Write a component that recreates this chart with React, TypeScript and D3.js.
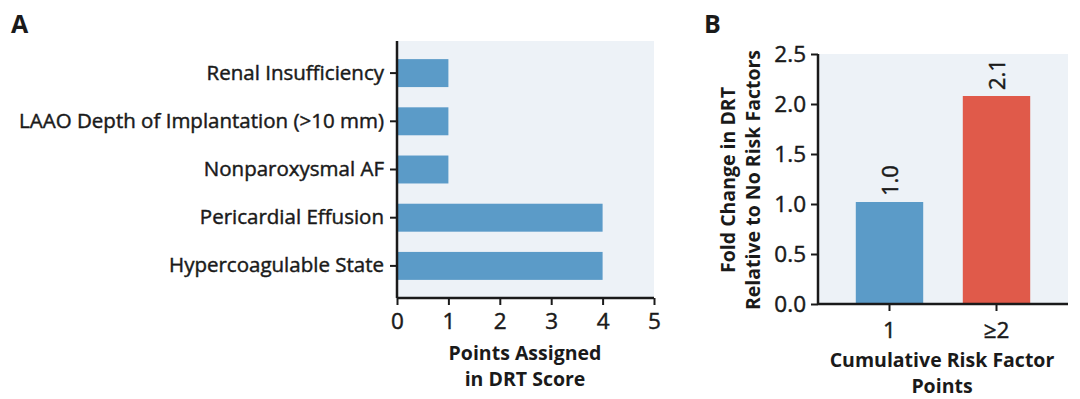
import React, { useEffect, useRef } from 'react';
import * as d3 from 'd3';

// Panel A: points assigned per risk factor
const factors = [
  'Renal Insufficiency',
  'LAAO Depth of Implantation (>10 mm)',
  'Nonparoxysmal AF',
  'Pericardial Effusion',
  'Hypercoagulable State',
];
const points = [1, 1, 1, 4, 4];
const pointTicks = [0, 1, 2, 3, 4, 5];

// Panel B: fold change vs cumulative points
const groups = ['1', '≥2'];
const foldChange = [1.02, 2.08];
const groupColors = ['#5b9bc8', '#e05a4a'];
const foldTicks = [0, 0.5, 1.0, 1.5, 2.0, 2.5];

const FONT = '"Open Sans", "Noto Sans", sans-serif';
const BG = '#edf2f7';
const BLUE = '#5b9bc8';
const INK = '#1a1a1a';

const DrtChart = () => {
  const ref = useRef<SVGSVGElement>(null);

  useEffect(() => {
    document.body.style.margin = '0';
    const svg = d3.select(ref.current);
    svg.selectAll('*').remove();
    svg.attr('font-family', FONT);

    // medium-weight look: regular glyphs with a hairline stroke
    const medium = (sel: any) => sel.attr('stroke', INK).attr('stroke-width', 0.45);

    const styleAxis = (g: any, size: number) => {
      g.select('.domain').attr('stroke', INK).attr('stroke-width', 2.5);
      g.selectAll('.tick line').attr('stroke', INK).attr('stroke-width', 2);
      g.selectAll('.tick text').attr('font-size', size).attr('fill', INK)
        .attr('font-family', FONT).call(medium);
    };

    const bold = (sel: any) => sel.attr('text-anchor', 'middle').attr('font-size', 19.5)
      .attr('font-weight', 700).attr('fill', INK);

    // ---------- panel A ----------
    const a = { left: 397, right: 654, top: 41, bottom: 298 };
    const x = d3.scaleLinear().domain([0, 5]).range([a.left, a.right]);
    const y = d3.scaleBand().domain(factors).range([a.top + 8, a.bottom - 8])
      .paddingInner(0.42).paddingOuter(0.21);

    svg.append('text').attr('x', 11).attr('y', 33)
      .attr('font-size', 25).attr('font-weight', 700).attr('fill', INK).text('A');

    svg.append('rect')
      .attr('x', a.left).attr('y', a.top)
      .attr('width', a.right - a.left).attr('height', a.bottom - a.top)
      .attr('fill', BG);

    svg.selectAll('.bar-a')
      .data(factors)
      .enter()
      .append('rect')
      .attr('class', 'bar-a')
      .attr('x', x(0))
      .attr('y', d => y(d)!)
      .attr('width', (d, i) => x(points[i]) - x(0))
      .attr('height', y.bandwidth())
      .attr('fill', BLUE);

    const axA = svg.append('g').attr('transform', `translate(0,${a.bottom})`)
      .call(d3.axisBottom(x).tickValues(pointTicks).tickFormat(d3.format('d')).tickSize(7).tickPadding(8));
    styleAxis(axA, 22.5);
    axA.select('.domain').attr('d', `M${a.left},0H${a.right}`);

    const ayA = svg.append('g').attr('transform', `translate(${a.left},0)`)
      .call(d3.axisLeft(y).tickSize(7).tickPadding(6));
    styleAxis(ayA, 20.5);
    ayA.select('.domain').attr('d', `M0,${a.top}V${a.bottom}`);

    svg.append('text').call(bold)
      .selectAll('tspan')
      .data(['Points Assigned', 'in DRT Score'])
      .enter()
      .append('tspan')
      .attr('x', 525)
      .attr('y', (d, i) => 360 + i * 26)
      .text(d => d);

    // ---------- panel B ----------
    const b = { left: 818, right: 1068, top: 54, bottom: 304 };
    const yb = d3.scaleLinear().domain([0, 2.5]).range([b.bottom, b.top]);
    const xb = d3.scaleBand().domain(groups).range([b.left + 18, b.right - 18])
      .paddingInner(0.37).paddingOuter(0.185);

    svg.append('text').attr('x', 704).attr('y', 33)
      .attr('font-size', 25).attr('font-weight', 700).attr('fill', INK).text('B');

    svg.append('rect')
      .attr('x', b.left).attr('y', b.top)
      .attr('width', b.right - b.left).attr('height', b.bottom - b.top)
      .attr('fill', BG);

    svg.selectAll('.bar-b')
      .data(groups)
      .enter()
      .append('rect')
      .attr('class', 'bar-b')
      .attr('x', d => xb(d)!)
      .attr('y', (d, i) => yb(foldChange[i]))
      .attr('width', xb.bandwidth())
      .attr('height', (d, i) => yb(0) - yb(foldChange[i]))
      .attr('fill', (d, i) => groupColors[i]);

    svg.selectAll('.val-b')
      .data(groups)
      .enter()
      .append('text')
      .attr('class', 'val-b')
      .attr('transform', (d, i) =>
        `translate(${xb(d)! + xb.bandwidth() / 2 + 8},${yb(foldChange[i]) - 6}) rotate(-90)`)
      .attr('font-size', 22).attr('fill', INK).call(medium)
      .text((d, i) => d3.format('.1f')(foldChange[i]));

    const axB = svg.append('g').attr('transform', `translate(0,${b.bottom})`)
      .call(d3.axisBottom(xb).tickSize(7).tickPadding(11));
    styleAxis(axB, 22.5);
    axB.select('.domain').attr('d', `M${b.left},0H${b.right}`);

    const ayB = svg.append('g').attr('transform', `translate(${b.left},0)`)
      .call(d3.axisLeft(yb).tickValues(foldTicks).tickFormat(d3.format('.1f')).tickSize(7).tickPadding(5));
    styleAxis(ayB, 22.5);
    ayB.select('.domain').attr('d', `M0,${b.top}V${b.bottom}`);

    svg.append('text').call(bold)
      .attr('transform', `translate(0,${(b.top + b.bottom) / 2 + 1}) rotate(-90)`)
      .selectAll('tspan')
      .data(['Fold Change in DRT', 'Relative to No Risk Factors'])
      .enter()
      .append('tspan')
      .attr('x', 0)
      .attr('y', (d, i) => 735 + i * 25)
      .text(d => d);

    svg.append('text').call(bold)
      .selectAll('tspan')
      .data(['Cumulative Risk Factor', 'Points'])
      .enter()
      .append('tspan')
      .attr('x', 942)
      .attr('y', (d, i) => 367 + i * 26)
      .text(d => d);
  }, []);

  return <svg ref={ref} width={1080} height={399} style={{ display: 'block', background: '#fff' }} />;
};

export default function App() {
  return <DrtChart />;
}
